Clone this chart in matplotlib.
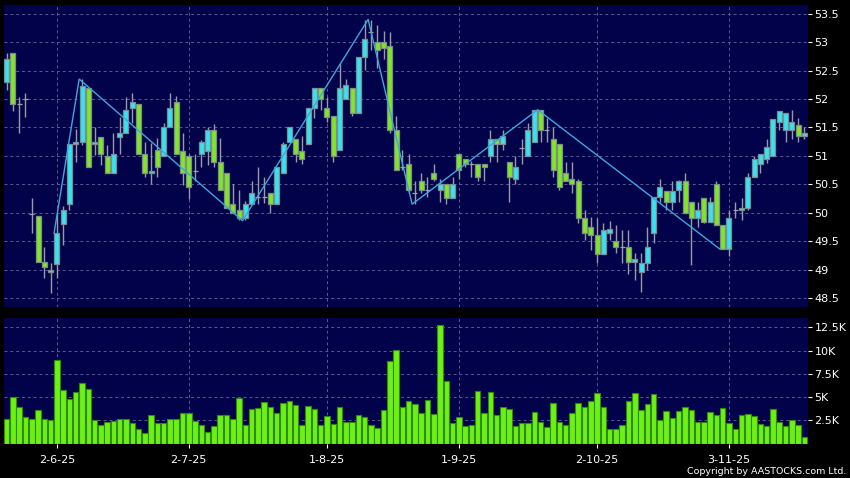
import matplotlib
matplotlib.use("Agg")
import matplotlib.pyplot as plt
import numpy as np

# ---------------- data ----------------
opens = [52.29, 52.80, 51.91, 52.00, 49.97, 49.95, 49.14, 49.00, 49.09, 49.80,
         50.15, 51.20, 51.25, 52.20, 51.20, 51.34, 50.99, 50.69, 51.34, 51.40,
         51.85, 51.91, 51.04, 50.69, 51.10, 50.99, 51.50, 51.94, 51.09, 50.99,
         50.74, 51.04, 51.09, 51.45, 50.90, 50.69, 50.15, 50.05, 49.90, 50.15,
         50.28, 50.28, 50.34, 50.15, 50.69, 51.25, 51.29, 51.09, 51.20, 51.85,
         52.20, 51.85, 51.70, 51.10, 52.00, 52.20, 51.75, 52.74, 53.17, 53.00,
         53.00, 52.94, 51.45, 50.81, 50.85, 50.35, 50.55, 50.40, 50.69, 50.40,
         50.50, 50.25, 51.04, 50.94, 50.85, 50.85, 50.85, 50.99, 51.29, 51.20,
         50.90, 50.60, 51.13, 50.99, 51.25, 51.81, 51.45, 51.29, 51.20, 50.69,
         50.60, 50.55, 49.90, 49.74, 49.61, 49.27, 49.65, 49.50, 49.39, 49.40,
         49.13, 48.96, 49.11, 49.64, 50.28, 50.39, 50.19, 50.40, 50.55, 50.19,
         49.90, 50.25, 49.84, 50.50, 49.78, 49.36, 50.05, 50.05, 50.09, 50.63,
         50.85, 50.94, 50.99, 51.60, 51.45, 51.45, 51.55, 51.35]
highs = [52.80, 52.80, 52.04, 52.10, 50.25, 49.95, 49.39, 49.11, 49.99, 50.12,
         51.20, 51.48, 52.35, 52.20, 51.51, 51.34, 51.19, 51.40, 51.69, 52.04,
         52.10, 51.91, 51.25, 51.22, 51.31, 51.57, 52.10, 52.05, 51.40, 51.04,
         51.04, 51.27, 51.51, 51.56, 51.31, 50.69, 50.50, 50.40, 50.20, 50.55,
         50.81, 50.63, 50.34, 50.80, 51.25, 51.50, 51.29, 51.35, 51.85, 52.20,
         52.20, 52.04, 51.70, 52.63, 52.35, 52.20, 52.74, 53.39, 53.39, 53.30,
         53.20, 53.17, 51.70, 51.10, 51.04, 50.55, 50.69, 50.63, 50.86, 50.60,
         50.50, 50.63, 51.04, 50.94, 50.91, 50.85, 50.85, 51.45, 51.29, 51.45,
         50.90, 50.99, 51.29, 51.58, 51.81, 51.81, 51.66, 51.51, 51.20, 50.90,
         50.90, 50.60, 50.05, 49.93, 49.90, 49.81, 49.85, 49.78, 49.70, 49.70,
         49.29, 49.29, 49.75, 50.28, 50.60, 50.39, 50.55, 50.58, 50.69, 50.19,
         50.19, 50.25, 50.28, 50.55, 49.78, 50.05, 50.19, 50.25, 50.69, 51.00,
         51.04, 51.29, 51.64, 51.79, 51.75, 51.81, 51.66, 51.51]
lows = [52.15, 51.79, 51.40, 51.69, 49.64, 49.14, 48.85, 48.59, 48.85, 49.44,
        50.05, 50.90, 51.19, 50.80, 51.01, 50.84, 50.69, 50.69, 51.04, 51.40,
        51.57, 51.04, 50.63, 50.50, 50.63, 50.99, 51.50, 51.04, 50.49, 50.24,
        50.55, 50.80, 50.84, 50.80, 50.40, 50.09, 49.99, 49.87, 49.87, 50.15,
        50.15, 50.17, 49.99, 50.15, 50.69, 51.25, 50.90, 50.86, 51.20, 51.66,
        51.81, 51.60, 50.90, 51.10, 52.00, 51.70, 51.75, 52.51, 52.86, 52.54,
        52.71, 51.40, 50.75, 50.75, 50.37, 50.16, 50.34, 50.28, 50.55, 50.19,
        50.15, 50.25, 50.60, 50.80, 50.63, 50.55, 50.55, 50.90, 50.90, 51.10,
        50.19, 50.50, 50.85, 50.99, 51.25, 51.25, 51.25, 50.63, 50.40, 50.55,
        50.34, 49.81, 49.52, 49.34, 49.11, 49.27, 49.52, 49.29, 49.11, 48.93,
        48.82, 48.61, 48.99, 49.47, 50.19, 50.05, 50.05, 50.19, 49.99, 49.08,
        49.75, 49.82, 49.84, 49.78, 49.36, 49.23, 49.90, 49.87, 50.05, 50.63,
        50.69, 50.88, 50.99, 51.45, 51.25, 51.29, 51.25, 51.29]
closes = [52.70, 51.91, 51.91, 52.00, 49.97, 49.14, 49.04, 48.95, 49.64, 50.05,
          51.20, 51.25, 52.23, 50.80, 51.25, 51.04, 50.69, 51.04, 51.40, 51.81,
          51.94, 51.04, 50.69, 50.74, 50.80, 51.50, 51.85, 51.04, 50.69, 50.45,
          50.74, 51.25, 51.45, 50.90, 50.40, 50.09, 49.99, 49.90, 50.15, 50.34,
          50.28, 50.28, 50.15, 50.80, 51.20, 51.50, 51.04, 50.94, 51.85, 52.20,
          52.00, 51.69, 50.99, 52.20, 52.25, 51.75, 52.74, 53.05, 53.17, 52.86,
          52.90, 51.45, 50.75, 50.81, 50.40, 50.35, 50.40, 50.40, 50.60, 50.50,
          50.25, 50.50, 50.75, 50.85, 50.85, 50.63, 50.80, 51.29, 51.20, 51.35,
          50.63, 50.80, 51.13, 51.45, 51.81, 51.45, 51.45, 50.75, 50.45, 50.55,
          50.50, 49.90, 49.65, 49.61, 49.27, 49.70, 49.71, 49.40, 49.39, 49.13,
          49.18, 49.11, 49.40, 50.28, 50.45, 50.19, 50.39, 50.55, 49.99, 49.90,
          50.05, 49.84, 50.19, 49.78, 49.36, 49.90, 50.05, 50.09, 50.63, 50.94,
          51.04, 51.15, 51.64, 51.79, 51.75, 51.59, 51.35, 51.40]
volumes_k = [2.68, 5.04, 3.96, 2.89, 2.61, 3.57, 2.64, 2.50, 8.93, 5.75,
             4.75, 5.57, 6.54, 5.82, 2.50, 1.96, 2.29, 2.39, 2.68, 2.68,
             2.25, 1.54, 1.18, 3.04, 2.25, 2.18, 2.68, 2.61, 3.32, 3.25,
             2.43, 2.04, 1.29, 1.93, 3.11, 3.07, 2.61, 4.93, 2.04, 3.68,
             3.82, 4.46, 3.96, 3.29, 4.39, 4.61, 4.14, 1.96, 4.00, 3.68,
             2.04, 2.96, 2.14, 3.93, 2.32, 2.29, 3.11, 2.89, 1.96, 1.71,
             3.57, 8.86, 10.04, 3.96, 4.61, 4.21, 3.25, 4.64, 3.14, 12.79,
             6.68, 2.18, 2.82, 1.86, 2.00, 5.68, 3.25, 5.57, 3.11, 3.96,
             3.68, 1.93, 2.25, 2.25, 3.39, 2.29, 1.82, 4.36, 2.36, 2.04,
             3.32, 4.39, 3.89, 4.54, 5.43, 3.96, 1.54, 1.61, 2.04, 4.54,
             5.46, 3.61, 4.25, 5.32, 2.54, 3.50, 2.71, 3.54, 3.93, 3.61,
             2.32, 2.32, 3.43, 3.04, 3.82, 2.18, 1.61, 3.04, 3.18, 2.96,
             2.14, 1.86, 3.68, 2.36, 1.89, 2.54, 2.04, 0.68]

zigzag_idx = [8, 12, 38, 58, 65, 85, 114]
zigzag_price = [49.64, 52.35, 49.86, 53.40, 50.15, 51.81, 49.36]

date_idx = [8, 29, 51, 72, 94, 115]
date_labels = ["2-6-25", "2-7-25", "1-8-25", "1-9-25", "2-10-25", "3-11-25"]

price_ticks = [48.5, 49, 49.5, 50, 50.5, 51, 51.5, 52, 52.5, 53, 53.5]
vol_ticks_k = [2.5, 5, 7.5, 10, 12.5]
vol_tick_labels = ["2.5K", "5K", "7.5K", "10K", "12.5K"]

# ---------------- style ----------------
BG = "#000000"
PANEL = "#02024a"
GRID = "#5a5a8e"
UP = "#35e4f2"
DOWN = "#80e625"
EDGE = "#7f8c8c"
WICK = "#9a9aa6"
DOJI = "#a0a0a8"
VOL = "#6cf015"
VOL_EDGE = "#2f8a0a"
ZIG = "#3ea6de"
TXT = "#ffffff"

W, H = 850, 478
fig = plt.figure(figsize=(W / 100, H / 100), dpi=100, facecolor=BG)

def fx(px):
    return px / W

def fy(py):
    return 1 - py / H

left, right = 3.5, 807.5
ax = fig.add_axes([fx(left), fy(306.5), fx(right - left), fy(5) - fy(306.5)])
axv = fig.add_axes([fx(left), fy(443.5), fx(right - left), fy(318.3) - fy(443.5)])

n = len(closes)
x = np.arange(n)
o = np.array(opens); c = np.array(closes)
hi = np.array(highs); lo = np.array(lows)

for a in (ax, axv):
    a.set_facecolor(PANEL)
    for s in a.spines.values():
        s.set_visible(False)
    a.set_xlim(-0.5, n - 0.5)
    a.yaxis.tick_right()
    a.tick_params(axis="y", colors=TXT, labelcolor=TXT, labelsize=8,
                  length=3, width=0.8, pad=2, direction="out")
    a.grid(True, color=GRID, linestyle=(0, (3, 3)), linewidth=0.7)
    a.set_axisbelow(True)

# ---- candles ----
ax.vlines(x, lo, hi, color=WICK, linewidth=1.0, zorder=2)
colors = np.where(c > o, UP, np.where(c < o, DOWN, DOJI))
edges = np.where(c == o, DOJI, EDGE)
bottoms = np.minimum(o, c)
heights = np.abs(c - o)
ax.bar(x, heights, bottom=bottoms, width=0.8, color=colors,
       edgecolor=edges, linewidth=0.9, zorder=3)

ax.plot(np.array(zigzag_idx) - 0.45, zigzag_price, color=ZIG, linewidth=1.0,
        zorder=4)

ax.set_ylim(48.35, 53.653)
ax.set_yticks(price_ticks)
ax.set_yticklabels([f"{t:g}" for t in price_ticks])
ax.set_xticks(date_idx)
ax.tick_params(axis="x", bottom=False, labelbottom=False)

# ---- volume ----
axv.bar(x, np.array(volumes_k) * 1000, width=0.88, color=VOL,
        edgecolor=VOL_EDGE, linewidth=0.8, zorder=3)
axv.set_ylim(0, 13470)
axv.set_yticks(np.array(vol_ticks_k) * 1000)
axv.set_yticklabels(vol_tick_labels)
axv.set_xticks(date_idx)
axv.set_xticklabels(date_labels)
axv.tick_params(axis="x", colors=TXT, labelcolor=TXT, labelsize=8,
                length=3, width=0.8, pad=5)

fig.text(fx(846.5), fy(471.5), "Copyright by AASTOCKS.com Ltd.", color=TXT,
         fontsize=6.8, ha="right", va="center")

fig.savefig("out.png", dpi=100, facecolor=BG)
